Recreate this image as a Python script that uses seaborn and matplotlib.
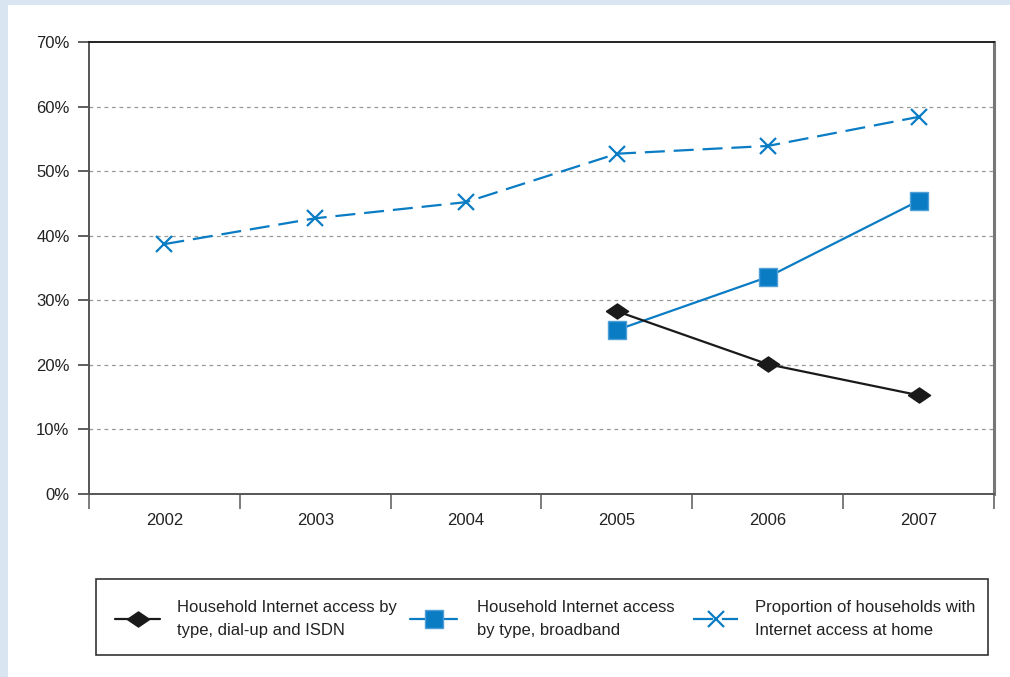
import numpy as np
import pandas as pd
import matplotlib
matplotlib.use("Agg")
import matplotlib.pyplot as plt
from matplotlib.patches import Rectangle
from matplotlib.lines import Line2D
from matplotlib.ticker import FixedLocator, PercentFormatter
import seaborn as sns

years = ["2002", "2003", "2004", "2005", "2006", "2007"]
dialup = [None, None, None, 28.3, 20.1, 15.3]
broadband = [None, None, None, 25.4, 33.6, 45.4]
home_access = [38.7, 42.7, 45.2, 52.7, 53.9, 58.4]

labels = [
    "Household Internet access by\ntype, dial-up and ISDN",
    "Household Internet access\nby type, broadband",
    "Proportion of households with\nInternet access at home",
]

blue = "#0a7cc4"
black = "#1a1a1a"
W, H = 1010, 677

sns.set_style("white")
plt.rcParams["font.family"] = ["Liberation Sans Narrow", "Liberation Sans", "DejaVu Sans"]
plt.rcParams["font.size"] = 12

fig = plt.figure(figsize=(W / 100, H / 100), dpi=100, facecolor="#dae5f2")
fig.patches.append(Rectangle((8 / W, 0), 1, 1 - 5 / H, transform=fig.transFigure,
                             facecolor="white", edgecolor="none", zorder=-1))

ax = fig.add_axes([89 / W, 1 - 494 / H, 905 / W, 452 / H])
ax.set_facecolor("white")

x = np.arange(len(years))
df = pd.DataFrame({"x": x, "dialup": dialup, "broadband": broadband, "home": home_access})

diamond = [(-1, 0), (0, 0.68), (1, 0), (0, -0.68), (-1, 0)]
styles = [
    dict(color=black, marker=diamond, markersize=16, markeredgecolor=black,
         markerfacecolor=black, markeredgewidth=1, dashes=None),
    dict(color=blue, marker="s", markersize=13.5, markeredgecolor="#4f9fd6",
         markeredgewidth=1, markerfacecolor=blue, dashes=None),
    dict(color=blue, marker="x", markersize=12, markeredgewidth=1.6,
         markeredgecolor=blue, markerfacecolor=blue, dashes=(9, 4)),
]
for col, st, z in zip(["dialup", "broadband", "home"], styles, [4, 3, 3]):
    kw = {k: v for k, v in st.items() if k != "dashes"}
    if st["dashes"] is not None:
        kw["dashes"] = st["dashes"]
    sns.lineplot(data=df, x="x", y=col, ax=ax, lw=1.6, zorder=z, legend=False, **kw)

ax.set_xlim(-0.5, len(years) - 0.5)
ax.set_ylim(0, 70)
ax.set_xlabel("")
ax.set_ylabel("")

ax.set_yticks(np.arange(0, 71, 10))
ax.yaxis.set_major_formatter(PercentFormatter(decimals=0))
ax.set_xticks(x)
ax.set_xticklabels(years)
ax.xaxis.set_minor_locator(FixedLocator(np.arange(-0.5, len(years), 1)))
ax.tick_params(axis="x", which="major", bottom=False, length=0, pad=14, labelsize=12,
               colors="#222222")
ax.tick_params(axis="x", which="minor", bottom=True, length=11, width=1.2,
               color="#666666", direction="out")
ax.tick_params(axis="y", which="major", length=8, width=1.2, color="#444444", pad=6,
               labelsize=12, labelcolor="#222222", left=True, direction="out")

for yv in range(10, 70, 10):
    ax.axhline(yv, color="#999999", lw=0.9, ls=(0, (3, 3)), zorder=1)

ax.spines["top"].set_color("#222222")
ax.spines["top"].set_linewidth(1.4)
ax.spines["left"].set_color("#555555")
ax.spines["left"].set_linewidth(1.4)
ax.spines["bottom"].set_color("#555555")
ax.spines["bottom"].set_linewidth(1.4)
ax.spines["right"].set_color("#777777")
ax.spines["right"].set_linewidth(2.2)

# legend box drawn by hand so handles/text sit where the reference has them
fig.patches.append(Rectangle((96 / W, 1 - 655 / H), 892 / W, 76 / H, transform=fig.transFigure,
                             facecolor="white", edgecolor="#333333", lw=1.2, zorder=5))
handle_x = [(115, 160), (410, 457), (693, 738)]
text_x = [177, 477, 755]
ly = 1 - 619 / H
for (x0, x1), tx, st, lab in zip(handle_x, text_x, styles, labels):
    line = Line2D([x0 / W, x1 / W], [ly, ly], transform=fig.transFigure, lw=1.6,
                  color=st["color"], zorder=6)
    if st["dashes"] is not None:
        line.set_dashes(st["dashes"])
    fig.add_artist(line)
    mk = Line2D([(x0 + x1) / 2 / W], [ly], transform=fig.transFigure, lw=0,
                marker=st["marker"], markersize=st["markersize"],
                markeredgecolor=st["markeredgecolor"], markerfacecolor=st["markerfacecolor"],
                markeredgewidth=st["markeredgewidth"], zorder=7)
    fig.add_artist(mk)
    fig.text(tx / W, ly, lab, ha="left", va="center", fontsize=12, color="#222222",
             linespacing=1.6, zorder=7)

fig.savefig("out.png", dpi=100, facecolor=fig.get_facecolor())
